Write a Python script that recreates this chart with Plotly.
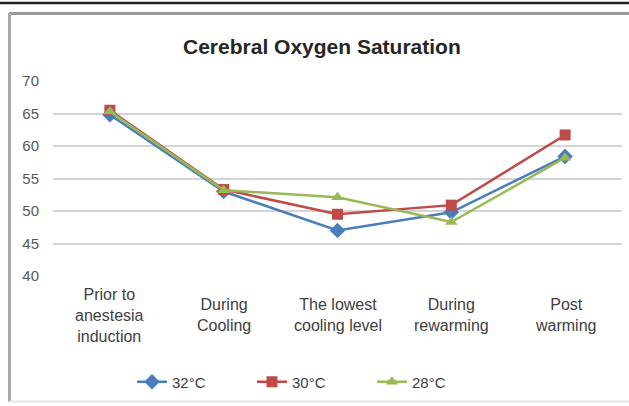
import plotly.graph_objects as go

categories = ["Prior to anestesia induction", "During Cooling", "The lowest cooling level",
              "During rewarming", "Post warming"]
tick_labels = ["Prior to<br>anestesia<br>induction", "During<br>Cooling", "The lowest<br>cooling level",
               "During<br>rewarming", "Post<br>warming"]
series_names = ["32°C", "30°C", "28°C"]
s32 = [64.8, 53.0, 47.0, 49.8, 58.4]
s30 = [65.5, 53.3, 49.5, 50.9, 61.7]
s28 = [65.3, 53.2, 52.1, 48.3, 58.2]
y_ticks = [40, 45, 50, 55, 60, 65, 70]

colors = ["#4a7ebb", "#be4b48", "#98b954"]
symbols = ["diamond", "square", "triangle-up"]
sizes = [12, 11, 11]

fig = go.Figure()
for name, vals, c, s, sz in zip(series_names, [s32, s30, s28], colors, symbols, sizes):
    fig.add_trace(go.Scatter(
        x=categories, y=vals, name=name, mode="lines+markers",
        line=dict(color=c, width=2.5),
        marker=dict(symbol=s, size=sz, color=c),
    ))

L, R, T, B = 53, 7, 81, 130
W, H = 629, 406
pw, ph = W - L - R, H - T - B

def px(x):
    return (x - L) / pw

def py(y):
    return (H - B - y) / ph

FONT = "Liberation Sans, Arial"
annotations = []
for cat, lab in zip(categories, tick_labels):
    annotations.append(dict(x=cat, xref="x", y=py(315), yref="paper", text=lab,
                            showarrow=False, yanchor="middle", xanchor="center",
                            font=dict(family=FONT, size=16, color="#404040")))
annotations.append(dict(x=px(322), xref="paper", y=py(47), yref="paper",
                        text="<b>Cerebral Oxygen Saturation</b>", showarrow=False,
                        xanchor="center", yanchor="middle",
                        font=dict(family=FONT, size=21, color="#262626")))

shapes = [
    dict(type="line", xref="paper", yref="paper", x0=px(0), x1=px(629), y0=py(3), y1=py(3),
         line=dict(color="#222222", width=2.5), layer="above"),
    dict(type="line", xref="paper", yref="paper", x0=px(9), x1=px(640), y0=py(13.5), y1=py(13.5),
         line=dict(color="#9a9a9a", width=3)),
    dict(type="line", xref="paper", yref="paper", x0=px(9.5), x1=px(9.5), y0=py(13), y1=py(402),
         line=dict(color="#a8a8a8", width=3)),
    dict(type="line", xref="paper", yref="paper", x0=px(9), x1=px(640), y0=py(401.5), y1=py(401.5),
         line=dict(color="#e6e6e6", width=2)),
]

fig.update_layout(
    width=W, height=H,
    margin=dict(l=L, r=R, t=T, b=B, autoexpand=False),
    paper_bgcolor="white", plot_bgcolor="white",
    showlegend=True,
    legend=dict(orientation="h", xref="container", yref="container",
                x=132 / W, xanchor="left", y=1 - 382 / H, yanchor="middle",
                entrywidth=75, entrywidthmode="pixels",
                font=dict(family=FONT, size=15, color="#404040")),
    xaxis=dict(showticklabels=False, showgrid=False, zeroline=False, showline=False,
               range=[-0.5, 4.5], automargin=False),
    yaxis=dict(range=[40, 70], tickvals=y_ticks, showgrid=True, gridcolor="#d4d4d4", gridwidth=1.5,
               zeroline=False, showline=False, ticklabelstandoff=13, automargin=False,
               tickfont=dict(family=FONT, size=15, color="#595959")),
    annotations=annotations,
    shapes=shapes,
)

fig.write_html("out.html", config={"displayModeBar": False},
               post_script="document.body.style.margin='0';document.body.style.overflow='hidden';")
